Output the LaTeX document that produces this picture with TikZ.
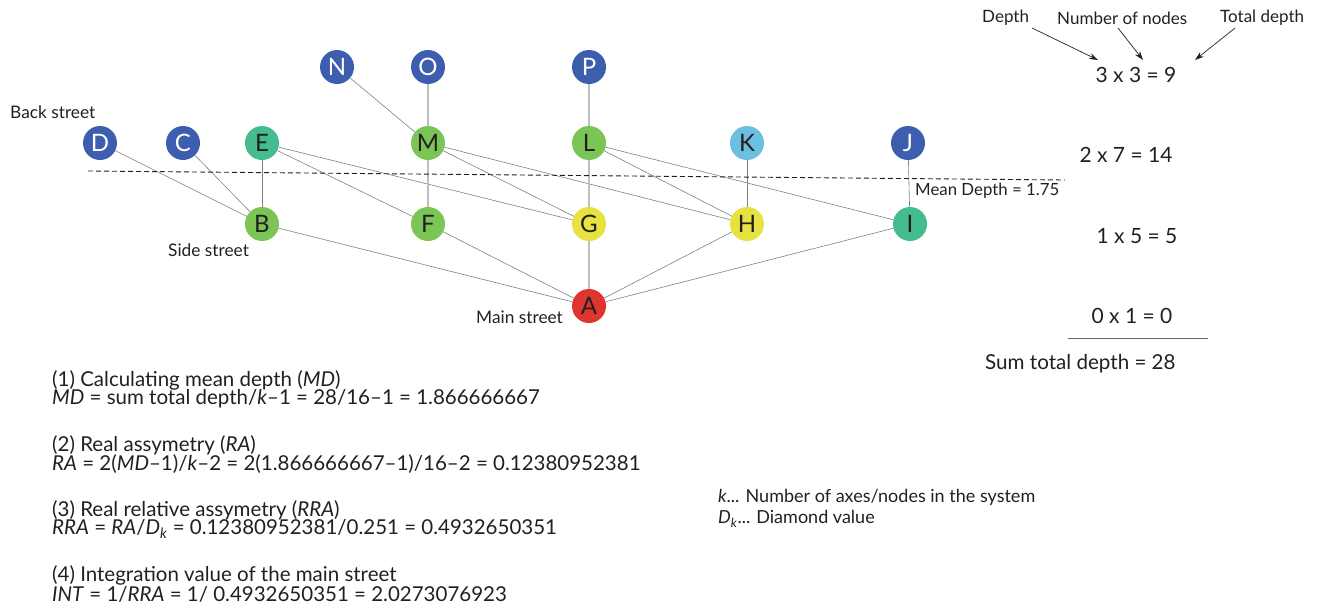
\documentclass[tikz,border=0pt]{standalone}
\usepackage{fontspec}
\setmainfont{Lato}
\usetikzlibrary{arrows.meta}
\definecolor{nblue}{HTML}{3D5DAE}
\definecolor{nteal}{HTML}{45BC8D}
\definecolor{ngreen}{HTML}{7AC555}
\definecolor{nyellow}{HTML}{E6E23F}
\definecolor{nlblue}{HTML}{6CBFDE}
\definecolor{nred}{HTML}{E0342F}
\definecolor{txt}{HTML}{231F20}
\begin{document}
\begin{tikzpicture}[x=1pt,y=-1pt,
  vtx/.style={circle, minimum size=34pt, inner sep=0pt, font=\fontsize{24}{24}\selectfont},
  bnode/.style={vtx, fill=nblue, text=white},
  tnode/.style={vtx, fill=nteal, text=txt},
  gnode/.style={vtx, fill=ngreen, text=txt},
  ynode/.style={vtx, fill=nyellow, text=txt},
  lnode/.style={vtx, fill=nlblue, text=txt},
  rnode/.style={vtx, fill=nred, text=txt},
  edge/.style={draw=black!50, line width=0.6pt},
  vedge/.style={draw=black!25, line width=1.1pt},
  lab/.style={font=\fontsize{17.3}{18}\selectfont, text=txt, inner sep=0pt},
  hdr/.style={font=\fontsize{17}{18}\selectfont, text=txt, inner sep=0pt},
  eq/.style={font=\fontsize{21}{22}\selectfont, text=txt, inner sep=0pt},
  frm/.style={font=\fontsize{20.5}{19}\selectfont, text=txt, inner sep=0pt, anchor=west},
  arr/.style={draw=txt, line width=0.7pt, -{Stealth[length=9pt,width=6pt]}}
]
\useasboundingbox (0,0) rectangle (1322,608);

% nodes
\node[bnode] (N) at (337,67) {N};
\node[bnode] (O) at (428,67) {O};
\node[bnode] (P) at (589,67) {P};
\node[bnode] (D) at (100,143) {D};
\node[bnode] (C) at (183,143) {C};
\node[tnode] (E) at (262,143) {E};
\node[gnode] (M) at (428,143) {M};
\node[gnode] (L) at (589,143) {L};
\node[lnode] (K) at (747,143) {K};
\node[bnode] (J) at (908,143) {J};
\node[gnode] (B) at (262,224) {B};
\node[gnode] (F) at (428,224) {F};
\node[ynode] (G) at (589,224) {G};
\node[ynode] (H) at (747,224) {H};
\node[tnode] (I) at (910,224) {I};
\node[rnode] (A) at (589,306) {A};

% edges
\draw[edge] (D) -- (B);
\draw[edge] (C) -- (B);
\draw[edge] (E) -- (B);
\draw[edge] (E) -- (F);
\draw[edge] (E) -- (G);
\draw[edge] (N) -- (M);
\draw[vedge] (O) -- (M);
\draw[vedge] (M) -- (F);
\draw[edge] (M) -- (G);
\draw[edge] (M) -- (H);
\draw[vedge] (P) -- (L);
\draw[vedge] (L) -- (G);
\draw[edge] (L) -- (H);
\draw[edge] (L) -- (I);
\draw[edge] (K) -- (H);
\draw[edge] (J) -- (I);
\draw[edge] (B) -- (A);
\draw[edge] (F) -- (A);
\draw[vedge] (G) -- (A);
\draw[edge] (H) -- (A);
\draw[edge] (I) -- (A);

% mean depth line
\coordinate (md1) at (88,171);
\coordinate (md2) at (1065,180);
\draw[line width=0.9pt, dash pattern=on 5pt off 3pt, draw=txt] (md1) -- (md2);
\node[lab, font=\fontsize{16.8}{16}\selectfont, anchor=west] (mdl) at (915,191) {Mean Depth = 1.75};

% street labels
\node[lab, anchor=west] (back) at (10,112) {Back street};
\node[lab, anchor=west] (side) at (168,250) {Side street};
\node[lab, anchor=west] (main) at (476,317) {Main street};

% header
\node[hdr, anchor=west] (hd) at (982,18) {Depth};
\node[hdr, anchor=west] (hn) at (1057,18) {Number of nodes};
\node[hdr, anchor=west] (ht) at (1220,18) {Total depth};
\coordinate (sd) at (1032,28);
\coordinate (sn) at (1118,28);
\coordinate (st) at (1235,28);
\coordinate (ad) at (1098,60);
\coordinate (an) at (1143,60);
\coordinate (at) at (1195,60);
\draw[arr] (sd) -- (ad);
\draw[arr] (sn) -- (an);
\draw[arr] (st) -- (at);

\node[eq] (e3) at (1136,75) {3 x 3 = 9};
\node[eq] (e2) at (1126,155) {2 x 7 = 14};
\node[eq] (e1) at (1137,236) {1 x 5 = 5};
\node[eq] (e0) at (1132,316) {0 x 1 = 0};
\coordinate (r1) at (1068,338);
\coordinate (r2) at (1208,338);
\draw[draw=black!60, line width=0.8pt] (r1) -- (r2);
\node[eq, font=\fontsize{20.6}{22}\selectfont, anchor=west] (sum) at (985,364) {Sum total depth = 28};

% formulas
\node[frm] (f1a) at (52,380) {(1) Calculating mean depth (\textit{MD})};
\node[frm] (f1b) at (52,399) {\textit{MD} = sum total depth/\textit{k}–1 = 28/16–1 = 1.866666667};
\node[frm] (f2a) at (52,445) {(2) Real assymetry (\textit{RA})};
\node[frm] (f2b) at (52,464) {\textit{RA} = 2(\textit{MD}–1)/\textit{k}–2 = 2(1.866666667–1)/16–2 = 0.12380952381};
\node[frm] (f3a) at (52,510) {(3) Real relative assymetry (\textit{RRA})};
\node[frm] (f3b) at (52,529) {\textit{RRA} = \textit{RA}/\textit{D}\textsubscript{\textit{k}} = 0.12380952381/0.251 = 0.4932650351};
\node[frm] (f4a) at (52,575) {(4) Integration value of the main street};
\node[frm] (f4b) at (52,594) {\textit{INT} = 1/\textit{RRA} = 1/ 0.4932650351 = 2.0273076923};

% legend
\node[lab, font=\fontsize{18}{18}\selectfont, anchor=west] (lk) at (718,497) {\textit{k}... Number of axes/nodes in the system};
\node[lab, font=\fontsize{18}{18}\selectfont, anchor=west] (ld) at (718,519) {\textit{D}\textsubscript{\textit{k}}... Diamond value};
\end{tikzpicture}
\end{document}
